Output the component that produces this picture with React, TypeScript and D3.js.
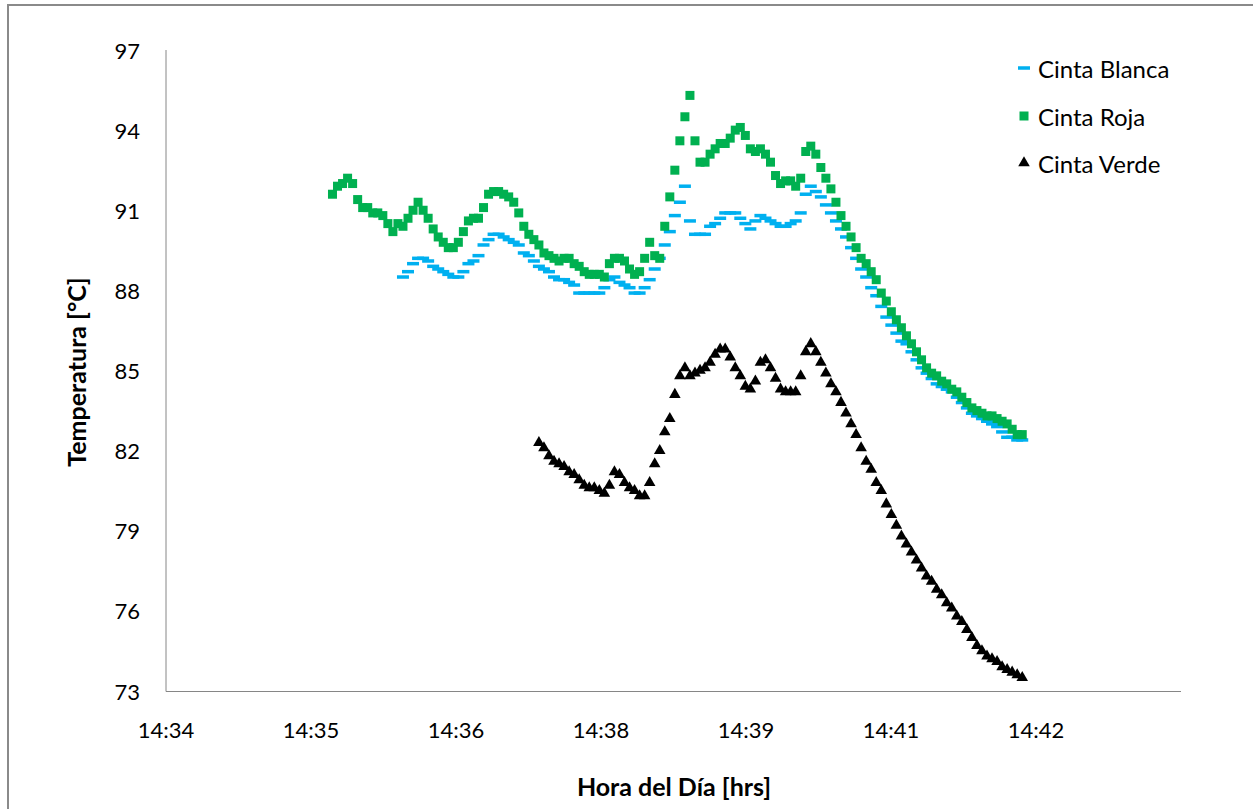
import React from "react";
import * as d3 from "d3";

// Sampling: one reading every 3 s
const SAMPLE_SECONDS = 3;
const START_BLANCA = "14:36:26";
const START_ROJA = "14:35:44";
const START_VERDE = "14:37:47";

const cintaBlanca = [
  88.5, 88.7, 89.0, 89.2, 89.2, 89.1, 88.9, 88.8, 88.7, 88.6,
  88.5, 88.5, 88.7, 89.0, 89.1, 89.3, 89.7, 89.9, 90.1, 90.1,
  90.0, 89.9, 89.8, 89.7, 89.4, 89.3, 89.1, 88.9, 88.8, 88.7,
  88.5, 88.4, 88.4, 88.3, 88.2, 87.9, 87.9, 87.9, 87.9, 87.9,
  88.1, 88.4, 88.5, 88.3, 88.2, 88.1, 87.9, 87.9, 88.1, 88.4,
  88.8, 89.2, 89.7, 90.2, 90.8, 91.3, 91.9, 90.6, 90.1, 90.1,
  90.1, 90.4, 90.5, 90.7, 90.9, 90.9, 90.9, 90.7, 90.5, 90.3,
  90.6, 90.8, 90.7, 90.6, 90.5, 90.4, 90.4, 90.5, 90.6, 90.9,
  91.6, 91.9, 91.7, 91.5, 91.2, 90.9, 90.6, 90.3, 90.0, 89.6,
  89.2, 88.8, 88.5, 88.1, 87.8, 87.4, 87.0, 86.7, 86.4, 86.1,
  86.0, 85.7, 85.4, 85.1, 84.9, 84.7, 84.5, 84.4, 84.3, 84.2,
  84.0, 83.8, 83.6, 83.4, 83.3, 83.2, 83.1, 83.0, 82.9, 82.7,
  82.5, 82.5, 82.4, 82.4,
];

const cintaRoja = [
  91.6, 91.9, 92.0, 92.2, 92.0, 91.4, 91.1, 91.1, 90.9, 90.9,
  90.8, 90.5, 90.2, 90.5, 90.4, 90.7, 91.0, 91.3, 91.0, 90.7,
  90.3, 90.0, 89.8, 89.6, 89.6, 89.8, 90.2, 90.6, 90.7, 90.7,
  91.1, 91.6, 91.7, 91.7, 91.6, 91.5, 91.3, 90.9, 90.4, 90.1,
  89.9, 89.7, 89.4, 89.3, 89.2, 89.1, 89.2, 89.2, 89.0, 88.9,
  88.7, 88.6, 88.6, 88.6, 88.5, 89.0, 89.2, 89.2, 89.1, 88.8,
  88.6, 88.7, 89.2, 89.8, 89.3, 89.2, 90.4, 91.5, 92.5, 93.6,
  94.5, 95.3, 93.6, 92.8, 92.8, 93.1, 93.3, 93.5, 93.5, 93.7,
  94.0, 94.1, 93.8, 93.3, 93.2, 93.3, 93.1, 92.8, 92.3, 92.0,
  92.1, 92.1, 91.9, 92.2, 93.2, 93.4, 93.1, 92.6, 92.2, 91.8,
  91.3, 90.8, 90.4, 90.0, 89.6, 89.2, 89.0, 88.7, 88.4, 87.9,
  87.6, 87.2, 86.9, 86.6, 86.3, 86.0, 85.7, 85.4, 85.1, 84.9,
  84.8, 84.6, 84.5, 84.3, 84.2, 84.0, 83.8, 83.6, 83.5, 83.4,
  83.3, 83.3, 83.2, 83.1, 83.0, 82.8, 82.6, 82.6,
];

const cintaVerde = [
  82.3, 82.1, 81.8, 81.6, 81.5, 81.4, 81.2, 81.1, 80.9, 80.7,
  80.6, 80.6, 80.5, 80.4, 80.7, 81.2, 81.1, 80.8, 80.6, 80.5,
  80.3, 80.3, 80.8, 81.5, 82.0, 82.7, 83.2, 84.1, 84.8, 85.1,
  84.8, 84.9, 85.0, 85.1, 85.3, 85.6, 85.8, 85.8, 85.5, 85.1,
  84.8, 84.4, 84.3, 84.6, 85.3, 85.4, 85.1, 84.7, 84.3, 84.2,
  84.2, 84.2, 84.8, 85.7, 86.0, 85.7, 85.3, 84.9, 84.5, 84.2,
  83.8, 83.4, 83.0, 82.6, 82.1, 81.6, 81.3, 80.8, 80.5, 80.0,
  79.6, 79.2, 78.8, 78.5, 78.2, 77.9, 77.6, 77.3, 77.1, 76.8,
  76.6, 76.3, 76.1, 75.8, 75.6, 75.3, 75.0, 74.7, 74.5, 74.3,
  74.2, 74.1, 73.9, 73.8, 73.7, 73.6, 73.5,
];

// Axis settings (time as fraction of a day, Excel style)
const X_MIN = 0.607;
const X_MAX = 0.614;
const X_STEP = 0.001;
const X_LABEL_COUNT = 7; // labels shown: 14:34 ... 14:42
const Y_TICKS = [73, 76, 79, 82, 85, 88, 91, 94, 97];

const SERIES_NAMES = ["Cinta Blanca", "Cinta Roja", "Cinta Verde"];
const COLORS = ["#00B0F0", "#00B050", "#000000"];

function parseTime(s: string): number {
  const [h, m, sec] = s.split(":").map(Number);
  return (h * 3600 + m * 60 + sec) / 86400;
}

function toPoints(start: string, values: number[]) {
  const t0 = parseTime(start);
  return values.map((v, i) => ({ t: t0 + (i * SAMPLE_SECONDS) / 86400, v }));
}

function fmtTime(t: number): string {
  const totalMin = Math.floor(t * 1440 + 1e-6);
  const h = Math.floor(totalMin / 60);
  const m = totalMin % 60;
  return `${h}:${m < 10 ? "0" + m : m}`;
}

const FONT = "Lato, 'Open Sans', sans-serif";

export default function App() {
  const W = 1253;
  const H = 809;
  const left = 166;
  const right = 1181;
  const top = 50;
  const bottom = 691;

  const x = d3.scaleLinear().domain([X_MIN, X_MAX]).range([left, right]);
  const y = d3.scaleLinear().domain([73, 97]).range([bottom, top]);

  const xTicks = d3.range(X_MIN, X_MAX + X_STEP / 2, X_STEP).slice(0, X_LABEL_COUNT);

  const blanca = toPoints(START_BLANCA, cintaBlanca);
  const roja = toPoints(START_ROJA, cintaRoja);
  const verde = toPoints(START_VERDE, cintaVerde);

  const triPath = d3.symbol().type(d3.symbolTriangle).size(58)() as string;

  const legendX = 1024;
  const legendY = [68, 116, 163];

  return (
    <svg
      width={W}
      height={H}
      style={{ position: "absolute", left: 0, top: 0, background: "#fff" }}
    >
      <rect x={0} y={0} width={W} height={H} fill="#fff" />
      {/* chart border */}
      <path d={`M8,${H + 5} V5 H${W + 5}`} fill="none" stroke="#8a8a8a" strokeWidth={2} />

      {/* axes */}
      <line x1={left} x2={left} y1={top} y2={bottom + 0.5} stroke="#868686" strokeWidth={1} />
      <line x1={left} x2={right} y1={bottom + 0.5} y2={bottom + 0.5} stroke="#868686" strokeWidth={1} />

      {/* y tick labels */}
      {Y_TICKS.map((t) => (
        <text
          key={t}
          x={140}
          y={y(t)}
          textAnchor="end"
          dominantBaseline="central"
          fontFamily={FONT}
          fontSize={22}
          fill="#000"
        >
          {t}
        </text>
      ))}

      {/* x tick labels */}
      {xTicks.map((t, i) => (
        <text
          key={i}
          x={x(t)}
          y={729}
          textAnchor="middle"
          dominantBaseline="central"
          fontFamily={FONT}
          fontSize={22}
          fill="#000"
        >
          {fmtTime(t)}
        </text>
      ))}

      {/* axis titles */}
      <text
        x={674}
        y={786}
        textAnchor="middle"
        dominantBaseline="central"
        fontFamily={FONT}
        fontWeight="bold"
        fontSize={25}
      >
        Hora del Día [hrs]
      </text>
      <text
        transform={`translate(76,372) rotate(-90)`}
        textAnchor="middle"
        dominantBaseline="central"
        fontFamily={FONT}
        fontWeight="bold"
        fontSize={25}
      >
        Temperatura [°C]
      </text>

      {/* series: Cinta Blanca (dashes) */}
      <g fill={COLORS[0]}>
        {blanca.map((d, i) => (
          <rect key={i} x={x(d.t) - 6} y={y(d.v) - 1.75} width={12} height={3.5} />
        ))}
      </g>
      {/* Cinta Roja (squares) */}
      <g fill={COLORS[1]}>
        {roja.map((d, i) => (
          <rect key={i} x={x(d.t) - 4.5} y={y(d.v) - 4.5} width={9} height={9} />
        ))}
      </g>
      {/* Cinta Verde (triangles) */}
      <g fill={COLORS[2]}>
        {verde.map((d, i) => (
          <path key={i} d={triPath} transform={`translate(${x(d.t)},${y(d.v)})`} />
        ))}
      </g>

      {/* legend */}
      <rect x={legendX - 6} y={legendY[0] - 1.75} width={12} height={3.5} fill={COLORS[0]} />
      <rect x={legendX - 4.5} y={legendY[1] - 4.5} width={9} height={9} fill={COLORS[1]} />
      <path d={triPath} transform={`translate(${legendX},${legendY[2]})`} fill={COLORS[2]} />
      {SERIES_NAMES.map((n, i) => (
        <text
          key={n}
          x={1038}
          y={legendY[i]}
          dominantBaseline="central"
          fontFamily={FONT}
          fontSize={24}
          fill="#000"
        >
          {n}
        </text>
      ))}
    </svg>
  );
}
